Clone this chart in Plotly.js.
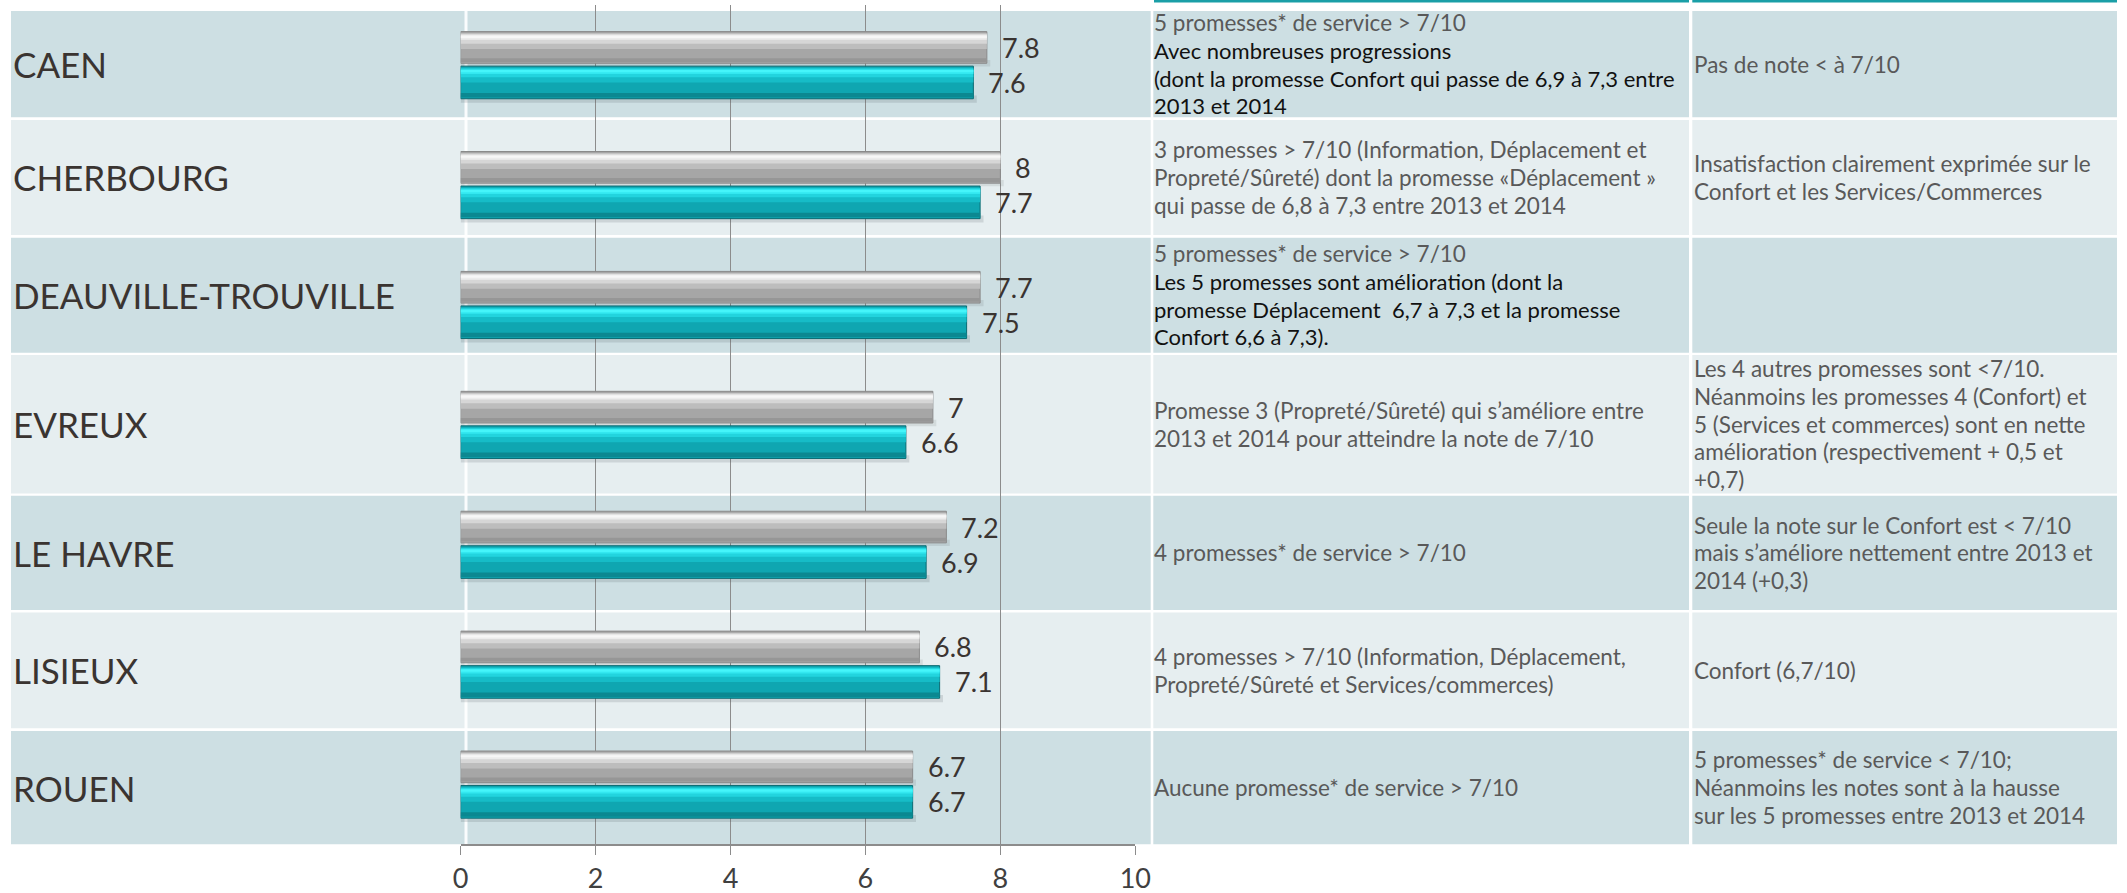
<!DOCTYPE html>
<html>
<head>
<meta charset="utf-8">
<script src="https://cdn.plot.ly/plotly-3.0.1.min.js"></script>
<style>html,body{margin:0;padding:0;background:#fff;}#chart{width:2127px;height:893px;}</style>
</head>
<body>
<div id="chart"></div>
<script>
// ---------- DATA ----------
const cities = ["CAEN", "CHERBOURG", "DEAUVILLE-TROUVILLE", "EVREUX", "LE HAVRE", "LISIEUX", "ROUEN"];
const scoreGray = [7.8, 8, 7.7, 7, 7.2, 6.8, 6.7];
const scoreTeal = [7.6, 7.7, 7.5, 6.6, 6.9, 7.1, 6.7];
const xTickVals = [0, 2, 4, 6, 8, 10];

const col2Text = [
  ["5 promesses* de service > 7/10", "Avec nombreuses progressions", "(dont la promesse Confort qui passe de 6,9 à 7,3 entre", "2013 et 2014"],
  ["3 promesses > 7/10 (Information, Déplacement et", "Propreté/Sûreté) dont la promesse «Déplacement »", "qui passe de 6,8 à 7,3 entre 2013 et 2014"],
  ["5 promesses* de service > 7/10", "Les 5 promesses sont amélioration (dont la", "promesse Déplacement  6,7 à 7,3 et la promesse", "Confort 6,6 à 7,3)."],
  ["Promesse 3 (Propreté/Sûreté) qui s’améliore entre", "2013 et 2014 pour atteindre la note de 7/10"],
  ["4 promesses* de service > 7/10"],
  ["4 promesses > 7/10 (Information, Déplacement,", "Propreté/Sûreté et Services/commerces)"],
  ["Aucune promesse* de service > 7/10"]
];
const col2DarkLines = [[1, 2, 3], [], [1, 2, 3], [], [], [], []];
const col3Text = [
  ["Pas de note < à 7/10"],
  ["Insatisfaction clairement exprimée sur le", "Confort et les Services/Commerces"],
  [],
  ["Les 4 autres promesses sont <7/10.", "Néanmoins les promesses 4 (Confort) et", "5 (Services et commerces) sont en nette", "amélioration (respectivement + 0,5 et", "+0,7)"],
  ["Seule la note sur le Confort est < 7/10", "mais s’améliore nettement entre 2013 et", "2014 (+0,3)"],
  ["Confort (6,7/10)"],
  ["5 promesses* de service < 7/10;", "Néanmoins les notes sont à la hausse", "sur les 5 promesses entre 2013 et 2014"]
];

// ---------- LAYOUT HELPERS ----------
const W = 2127, H = 893;
const px = v => v / W;
const py = v => 1 - v / H;
const esc = s => s.replace(/&/g, "&amp;").replace(/</g, "&lt;").replace(/>/g, "&gt;").replace(/  /g, " &nbsp;");

const rowTops = [11, 120, 237.7, 355, 495.8, 612.5, 731];
const rowBottoms = [117.3, 235, 352.7, 493.5, 610, 728.3, 844.3];
const rowDark = "#cddfe3", rowLight = "#e6eef0";
const cols = [[11, 1150.7], [1153.3, 1689], [1692.3, 2117]];

const FONT = "Lato, 'Open Sans', sans-serif";

// ---------- BARS ----------
// bar geometry in category units (reversed axis: smaller offset = higher on screen)
const GRAY_OFF = -0.278, GRAY_W = 0.264;
const TEAL_OFF = 0.010, TEAL_W = 0.272;

function strip(values, off, w, a, b, color, line) {
  return {
    type: "bar", orientation: "h", x: values, y: cities,
    offset: off + a * w, width: (b - a) * w,
    marker: {color: color, line: line || {width: 0}},
    hoverinfo: "skip", showlegend: false
  };
}
const traces = [];
// soft shadow under bars
traces.push(strip(scoreTeal.map(v => v + 0.05), TEAL_OFF, TEAL_W, 0.9, 1.12, "rgba(70,80,85,0.16)"));
traces.push(strip(scoreGray.map(v => v + 0.05), GRAY_OFF, GRAY_W, 0.9, 1.1, "rgba(70,80,85,0.12)"));
// gray series
traces.push(strip(scoreGray, GRAY_OFF, GRAY_W, 0, 1, "#a6a6a6", {width: 1, color: "#8a8a8a"}));
traces.push(strip(scoreGray, GRAY_OFF, GRAY_W, 0.05, 0.55, "#bdbdbd"));
traces.push(strip(scoreGray, GRAY_OFF, GRAY_W, 0.07, 0.38, "#d6d6d6"));
traces.push(strip(scoreGray, GRAY_OFF, GRAY_W, 0.10, 0.26, "#ececec"));
traces.push(strip(scoreGray, GRAY_OFF, GRAY_W, 0.13, 0.20, "#f7f7f7"));
traces.push(strip(scoreGray, GRAY_OFF, GRAY_W, 0.84, 0.96, "#969696"));
// teal series
traces.push(strip(scoreTeal, TEAL_OFF, TEAL_W, 0, 1, "#0fa6b1", {width: 1, color: "#0b6a72"}));
traces.push(strip(scoreTeal, TEAL_OFF, TEAL_W, 0.05, 0.50, "#16bcc7"));
traces.push(strip(scoreTeal, TEAL_OFF, TEAL_W, 0.07, 0.34, "#22d4de"));
traces.push(strip(scoreTeal, TEAL_OFF, TEAL_W, 0.10, 0.24, "#33e8f0"));
traces.push(strip(scoreTeal, TEAL_OFF, TEAL_W, 0.12, 0.19, "#45f5fa"));
traces.push(strip(scoreTeal, TEAL_OFF, TEAL_W, 0.82, 0.96, "#0b8891"));

// ---------- SHAPES ----------
const shapes = [];
rowTops.forEach((t, i) => {
  cols.forEach(c => {
    shapes.push({type: "rect", xref: "paper", yref: "paper", layer: "below",
      x0: px(c[0]), x1: px(c[1]), y0: py(t), y1: py(rowBottoms[i]),
      fillcolor: i % 2 === 0 ? rowDark : rowLight, line: {width: 0}});
  });
});
// white table border inside first column
shapes.push({type: "line", xref: "paper", yref: "paper", layer: "below",
  x0: px(466), x1: px(466), y0: py(11), y1: py(844), line: {color: "rgba(255,255,255,0.9)", width: 3}});
// teal header rules
[[1154, 1689], [1692.3, 2117]].forEach(c => {
  shapes.push({type: "rect", xref: "paper", yref: "paper", layer: "above",
    x0: px(c[0]), x1: px(c[1]), y0: py(0), y1: py(2.5), fillcolor: "#1a9fa7", line: {width: 0}});
});

// ---------- ANNOTATIONS ----------
const annotations = [];
cities.forEach((c, i) => {
  const center = (rowTops[i] + rowBottoms[i]) / 2;
  annotations.push({xref: "paper", yref: "paper", x: px(11), y: py(center),
    xanchor: "left", yanchor: "middle", showarrow: false, text: c,
    font: {family: FONT, size: 35, color: "#3a3431"}});
  // value labels
  annotations.push({xref: "x", yref: "y", x: scoreGray[i], y: c, xanchor: "left", yanchor: "middle",
    xshift: 13, yshift: 17.5, showarrow: false, text: String(scoreGray[i]),
    font: {family: FONT, size: 27, color: "#3a3431"}});
  annotations.push({xref: "x", yref: "y", x: scoreTeal[i], y: c, xanchor: "left", yanchor: "middle",
    xshift: 13, yshift: -17.5, showarrow: false, text: String(scoreTeal[i]),
    font: {family: FONT, size: 27, color: "#3a3431"}});
  // table texts
  const LS = 27.7;
  const addLines = (lines, xLeft, dark) => {
    const n = lines.length;
    lines.forEach((ln, k) => {
      const isDark = dark.indexOf(k) >= 0;
      annotations.push({xref: "paper", yref: "paper", x: px(xLeft), y: py(center + (k - (n - 1) / 2) * LS),
        xanchor: "left", yanchor: "middle", showarrow: false, text: esc(ln),
        font: {family: FONT, size: isDark ? 22 : 22.5, color: isDark ? "#111111" : "#595959"}});
    });
  };
  addLines(col2Text[i], 1152, col2DarkLines[i]);
  addLines(col3Text[i], 1692, []);
});

const layout = {
  width: W, height: H,
  margin: {l: 0, r: 0, t: 0, b: 0},
  paper_bgcolor: "#ffffff", plot_bgcolor: "rgba(0,0,0,0)",
  barmode: "overlay",
  showlegend: false,
  xaxis: {
    domain: [px(460.6), px(1135.3)], range: [0, 10], tickvals: xTickVals,
    showgrid: true, gridcolor: "#8c8c8c", gridwidth: 1, zeroline: false,
    showline: true, linecolor: "#8c8c8c", linewidth: 2,
    ticks: "outside", ticklen: 9, tickcolor: "#8c8c8c", tickwidth: 1.5,
    tickfont: {family: FONT, size: 27, color: "#404040"}, automargin: false, fixedrange: true
  },
  yaxis: {
    domain: [py(844.3), py(5)], type: "category", categoryorder: "array", categoryarray: cities,
    range: [6.5, -0.5], showticklabels: false, showgrid: false, zeroline: false, showline: false,
    ticks: "", automargin: false, fixedrange: true
  },
  shapes: shapes,
  annotations: annotations
};

Plotly.newPlot("chart", traces, layout, {displayModeBar: false, staticPlot: true});
</script>
</body>
</html>
